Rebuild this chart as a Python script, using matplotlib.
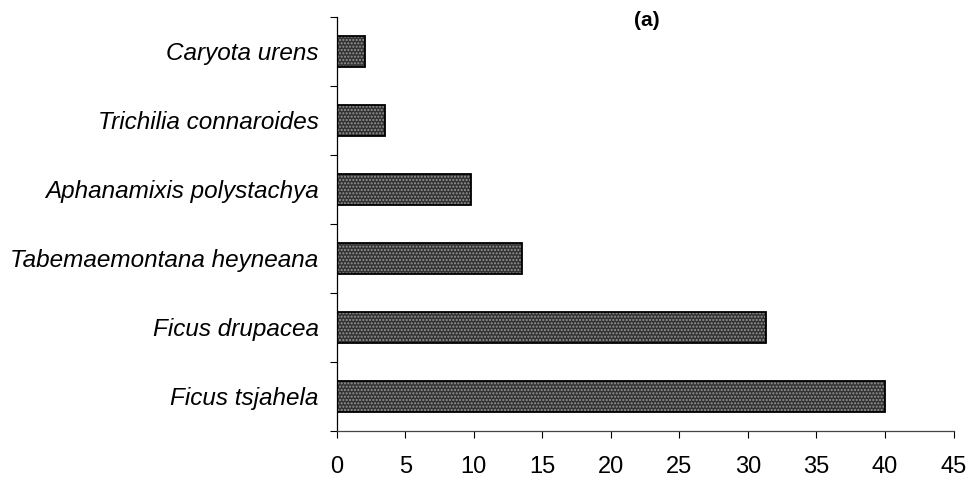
import numpy as np
import matplotlib.pyplot as plt

# arter og antal (fra bund til top)
species = ['Ficus tsjahela', 'Ficus drupacea', 'Tabemaemontana heyneana',
           'Aphanamixis polystachya', 'Trichilia connaroides', 'Caryota urens']
values = [40.0, 31.3, 13.5, 9.8, 3.5, 2.1]
xticks = [0, 5, 10, 15, 20, 25, 30, 35, 40, 45]

plt.rcParams['font.family'] = ['Liberation Sans', 'DejaVu Sans']

fig = plt.figure(figsize=(9.73, 4.83), dpi=100)
ax = fig.add_axes([0.346, 0.108, 0.634, 0.857])

y = np.arange(len(species))
# mørk fyld med lys prikket skravering, sort kant tegnes ovenpå
ax.barh(y, values, height=0.44, color='#333333', hatch='.....',
        edgecolor='#959595', linewidth=0)
ax.barh(y, values, height=0.44, fill=False, edgecolor='black', linewidth=1.3)

ax.set_xlim(0, 45)
ax.set_ylim(-0.5, len(species) - 0.5)
ax.set_xticks(xticks)
ax.set_xticklabels([str(t) for t in xticks], fontsize=17)
ax.tick_params(axis='x', direction='out', length=5, width=0.8, pad=13)

# kategorinavne uden tick, tick-streger ved grænserne
ax.set_yticks(y)
ax.set_yticklabels(species, fontsize=17.5, style='italic')
ax.tick_params(axis='y', length=0, pad=13)
ax.set_yticks(np.arange(-0.5, len(species)), minor=True)
ax.tick_params(axis='y', which='minor', direction='out', length=5, width=0.8)

for s in ['top', 'right']:
    ax.spines[s].set_visible(False)
ax.spines['left'].set_linewidth(0.9)
ax.spines['bottom'].set_linewidth(0.9)
ax.spines['bottom'].set_color('#444444')

fig.text(0.665, 0.958, '(a)', fontsize=15, fontweight='bold', ha='center', va='center')

fig.savefig('out.png', dpi=100)
